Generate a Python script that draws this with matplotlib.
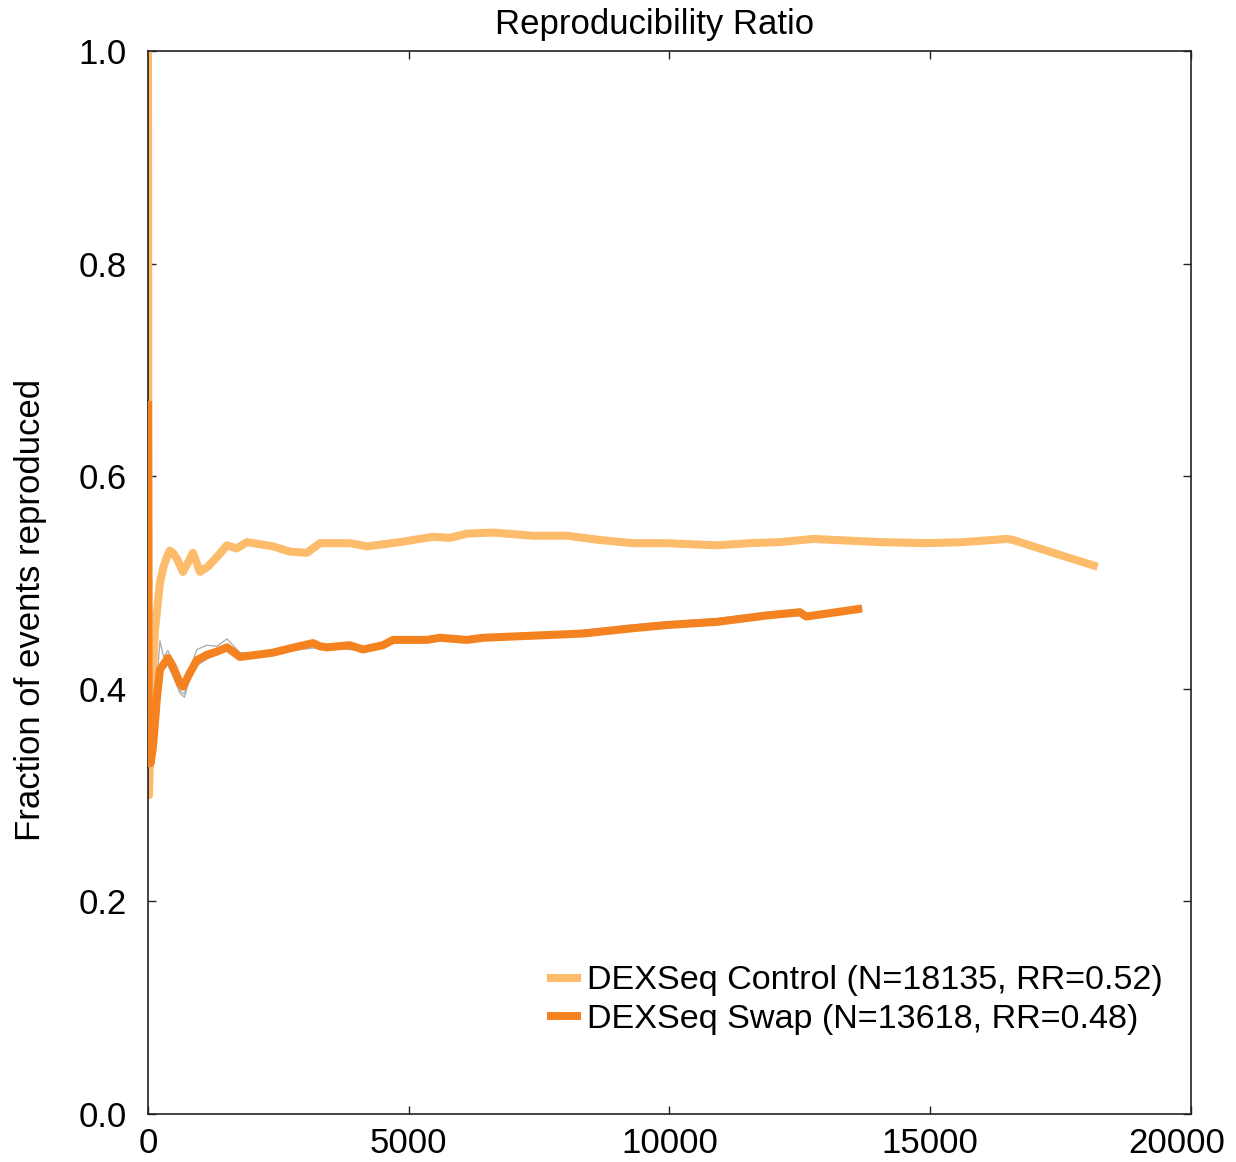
import matplotlib
matplotlib.use("Agg")
import matplotlib.pyplot as plt
import matplotlib.transforms as mtransforms

# running fraction of events reproduced, by number of events ranked
ctrl_x = [1, 5, 10, 20, 60, 134, 230, 300, 364, 420, 479, 560, 671, 760, 863, 997,
          1150, 1323, 1515, 1700, 1898, 2397, 2723, 3049, 3298, 3873, 4199, 4832,
          5465, 5791, 6117, 6616, 7383, 8035, 8667, 9300, 9952, 10911, 11543, 12119,
          12752, 14036, 14938, 15628, 16472, 16587, 17546, 18135]
ctrl_y = [1.0, 0.75, 0.50, 0.30, 0.38, 0.455, 0.50, 0.515, 0.524, 0.530, 0.528,
          0.522, 0.51, 0.518, 0.528, 0.51, 0.515, 0.524, 0.535, 0.532, 0.538, 0.534,
          0.529, 0.528, 0.537, 0.537, 0.534, 0.538, 0.543, 0.542, 0.546, 0.547,
          0.544, 0.544, 0.540, 0.537, 0.537, 0.535, 0.537, 0.538, 0.541, 0.538,
          0.537, 0.538, 0.541, 0.540, 0.525, 0.516]

swap_x = [3, 8, 15, 30, 50, 96, 173, 230, 384, 479, 614, 671, 805, 940, 1131, 1323,
          1515, 1764, 2090, 2397, 2723, 3164, 3298, 3433, 3873, 4123, 4506, 4698,
          5350, 5599, 6117, 6424, 7383, 8341, 9300, 9952, 10911, 11869, 12502,
          12620, 13618]
swap_y = [0.667, 0.50, 0.33, 0.36, 0.33, 0.345, 0.392, 0.418, 0.429, 0.421, 0.405,
          0.402, 0.415, 0.427, 0.432, 0.435, 0.439, 0.430, 0.432, 0.434, 0.438,
          0.443, 0.440, 0.439, 0.441, 0.437, 0.441, 0.446, 0.446, 0.448, 0.446,
          0.448, 0.450, 0.452, 0.457, 0.460, 0.463, 0.469, 0.472, 0.468, 0.475]

# thin grey replicate traces around the swap curve
rep1_x = [96, 173, 230, 300, 384, 479, 614, 700, 805, 940, 1131, 1323, 1515, 1764,
          2090, 2723, 3298, 4123, 4698, 5599, 6424, 7383, 8341, 9300, 9952, 10911,
          11869, 12502]
rep1_y = [0.36, 0.41, 0.445, 0.43, 0.436, 0.426, 0.398, 0.395, 0.419, 0.437, 0.441,
          0.440, 0.447, 0.434, 0.433, 0.437, 0.441, 0.437, 0.445, 0.447, 0.449,
          0.451, 0.455, 0.460, 0.463, 0.466, 0.472, 0.475]
rep2_x = [96, 173, 230, 300, 384, 479, 614, 700, 805, 940, 1131, 1323, 1515, 1764,
          2090, 2723, 3298, 4123, 4698, 5599, 6424, 7383, 8341, 9300, 9952, 10911,
          11869, 12502]
rep2_y = [0.33, 0.385, 0.41, 0.425, 0.422, 0.412, 0.396, 0.392, 0.410, 0.422, 0.428,
          0.432, 0.436, 0.428, 0.430, 0.436, 0.439, 0.436, 0.444, 0.446, 0.447,
          0.449, 0.450, 0.455, 0.458, 0.461, 0.467, 0.469]

labels = ["DEXSeq Control (N=18135, RR=0.52)", "DEXSeq Swap (N=13618, RR=0.48)"]
colors = ["#FDBB6C", "#F58220"]
x_ticks = [0, 5000, 10000, 15000, 20000]
y_ticks = [0.0, 0.2, 0.4, 0.6, 0.8, 1.0]

plt.rcParams['font.family'] = ['Liberation Sans', 'DejaVu Sans']
plt.rcParams['font.size'] = 25

fig = plt.figure(figsize=(12.36, 11.62), dpi=100)
ax = fig.add_axes([0.1197, 0.0413, 0.8439, 0.9148])

ax.plot(rep1_x, rep1_y, color="#b0b0b0", lw=1.0, zorder=1)
ax.plot(rep2_x, rep2_y, color="#b0b0b0", lw=1.0, zorder=1)
ax.plot(ctrl_x, ctrl_y, color=colors[0], lw=5.8, label=labels[0], zorder=2)
ax.plot(swap_x, swap_y, color=colors[1], lw=5.8, label=labels[1], zorder=3)

ax.set_xlim(0, 20000)
ax.set_ylim(0, 1)
ax.set_xticks(x_ticks)
ax.set_yticks(y_ticks)
ax.set_yticklabels(["%.1f" % v for v in y_ticks])
ax.tick_params(direction="in", length=6, width=1, top=True, right=True,
               labelsize=25, color="#222222")
ax.tick_params(axis="x", pad=9)
ax.tick_params(axis="y", pad=15)
for s in ax.spines.values():
    s.set_linewidth(1.2)
    s.set_color("#222222")

# last x label nudged left so it stays inside the figure
last = ax.get_xticklabels()[-1]
last.set_transform(last.get_transform() +
                   mtransforms.ScaledTranslation(-14 / 100, 0, fig.dpi_scale_trans))

ax.set_title("Reproducibility Ratio", fontsize=25, pad=12, x=0.486)
ax.set_ylabel("Fraction of events reproduced", fontsize=25)
ax.yaxis.set_label_coords(-0.097, 0.474)

ax.legend(loc="lower left", bbox_to_anchor=(0.3864, 0.074), frameon=False,
          borderpad=0, borderaxespad=0, handlelength=0.76, handletextpad=0.3,
          labelspacing=0.23, fontsize=24.6)

fig.savefig("out.png", dpi=100)
